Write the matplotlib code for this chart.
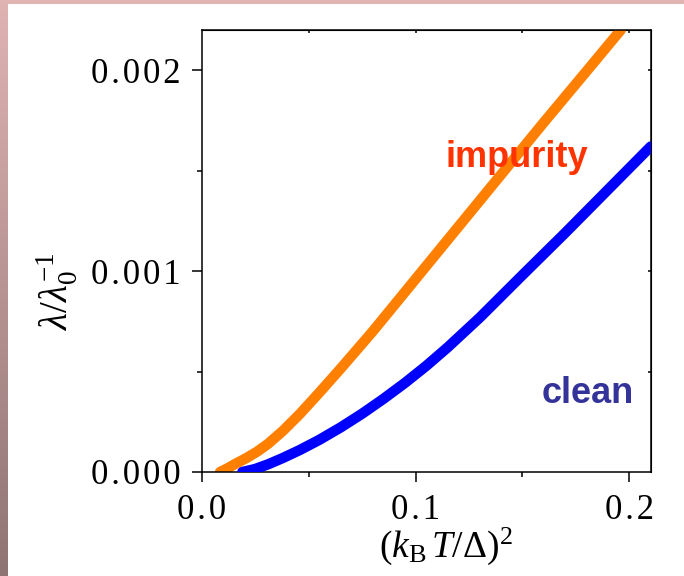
import numpy as np
import matplotlib
matplotlib.use("Agg")
import matplotlib.pyplot as plt
from matplotlib.ticker import MultipleLocator, FixedLocator, NullFormatter
from matplotlib.patches import Rectangle

# readings: x = (kB T / Delta)^2, y = lambda/lambda0 - 1
impurity_x = [0.0086, 0.012, 0.016, 0.021, 0.026, 0.031, 0.038, 0.046, 0.055,
              0.065, 0.08, 0.1, 0.12, 0.14, 0.16, 0.18, 0.196]
impurity_y = [0.0, 0.000018, 0.000042, 0.00007, 0.000102, 0.00014, 0.000205, 0.00029,
              0.000395, 0.000515, 0.0007, 0.00096, 0.00122, 0.00148, 0.00174,
              0.001995, 0.0022]

clean_x = [0.019, 0.025, 0.031, 0.038, 0.046, 0.055, 0.065, 0.075, 0.085,
           0.095, 0.105, 0.115, 0.13, 0.15, 0.17, 0.19, 0.21]
clean_y = [0.0, 0.000015, 0.000038, 0.00007, 0.00011, 0.00016, 0.000222, 0.00029,
           0.000364, 0.000443, 0.000528, 0.00062, 0.000768, 0.00098, 0.00119,
           0.001405, 0.00162]

x_ticks = [0.0, 0.1, 0.2]
x_ticklabels = ["0.0", "0.1", "0.2"]
y_ticks = [0.0, 0.001, 0.002]
y_ticklabels = ["0.000", "0.001", "0.002"]

plt.rcParams['font.family'] = 'Liberation Serif'
plt.rcParams['mathtext.fontset'] = 'custom'
plt.rcParams['mathtext.rm'] = 'Liberation Serif'
plt.rcParams['mathtext.it'] = 'Liberation Serif:italic'
plt.rcParams['mathtext.bf'] = 'Liberation Serif:bold'


def spaced(s):
    # the original tick labels are set with wide letter spacing
    return '\u200a'.join(s)


fig = plt.figure(figsize=(6.84, 5.76), dpi=100)

# slide-style frame: pink strip on top, shaded strip on the left
fig.patches.append(Rectangle((0, 1 - 4 / 576), 1, 4 / 576, transform=fig.transFigure,
                             facecolor='#e1b4b4', edgecolor='none', zorder=0))
band = fig.add_axes([0, 0, 8 / 684, 1])
grad = np.linspace(0, 1, 256).reshape(-1, 1)
cmap = matplotlib.colors.LinearSegmentedColormap.from_list('band', ['#8f7474', '#e0b3b3'])
band.imshow(grad, aspect='auto', cmap=cmap, origin='lower')
band.axis('off')

ax = fig.add_axes([201.7 / 684, 104 / 576, 449 / 684, 442 / 576])

ax.plot(impurity_x, impurity_y, color='#ff8000', lw=7.5, solid_capstyle='round',
        solid_joinstyle='round', zorder=2)
ax.plot(clean_x, clean_y, color='#0000ff', lw=7.5, solid_capstyle='round',
        solid_joinstyle='round', zorder=3)

ax.text(0.1139, 0.001517, 'impurity', family='Liberation Sans', weight='bold',
        fontsize=26, color='#ff3300', ha='left', va='baseline', zorder=5)
ax.text(0.1591, 0.000343, 'clean', family='Liberation Sans', weight='bold',
        fontsize=26, color='#333399', ha='left', va='baseline', zorder=5)

ax.set_xlim(0, 0.21)
ax.set_ylim(0, 0.0022)
ax.set_xticks(x_ticks)
ax.set_xticklabels([spaced(t) for t in x_ticklabels])
ax.set_yticks(y_ticks)
ax.set_yticklabels([spaced(t) for t in y_ticklabels])
ax.xaxis.set_minor_locator(MultipleLocator(0.05))
ax.yaxis.set_minor_locator(MultipleLocator(0.0005))
ax.tick_params(which='major', direction='out', length=7.5, width=1.1, labelsize=25, pad=8)
ax.tick_params(which='minor', direction='out', length=3.5, width=1.1)
for s in ax.spines.values():
    s.set_linewidth(1.1)

# inward ticks on top and right
top = ax.secondary_xaxis('top')
top.xaxis.set_major_locator(FixedLocator([0.05, 0.1, 0.15, 0.2]))
top.xaxis.set_major_formatter(NullFormatter())
top.tick_params(direction='in', length=2.5, width=1.1)
right = ax.secondary_yaxis('right')
right.yaxis.set_major_locator(FixedLocator([0.0005, 0.001, 0.0015, 0.002]))
right.yaxis.set_major_formatter(NullFormatter())
right.tick_params(direction='in', length=2.5, width=1.1)

ax.set_xlabel(r'$(k_{\mathrm{B}}\,T/\Delta)^2$', fontsize=27)
ax.xaxis.set_label_coords(0.545, -0.122)
ax.set_ylabel(r'$\lambda/\lambda_0^{-1}$', fontsize=28)
ax.yaxis.set_label_coords(-0.27, 0.41)

fig.savefig('out.png', dpi=100)
